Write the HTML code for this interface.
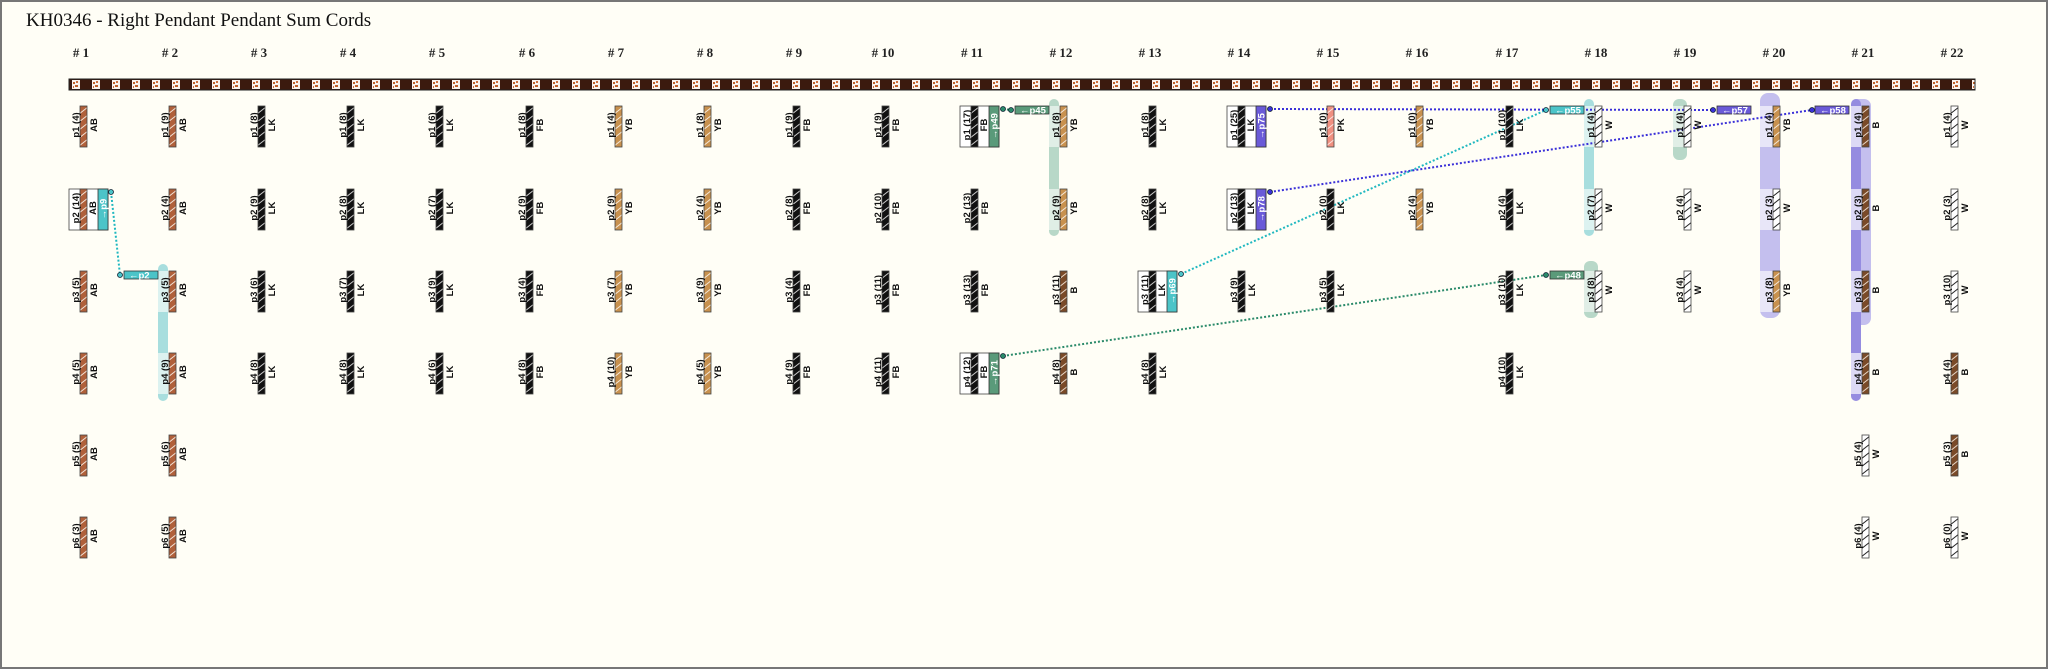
<!DOCTYPE html>
<html><head><meta charset="utf-8"><style>
html,body{margin:0;padding:0;background:#fffef6;}
svg{display:block}
.l,.c{font:bold 9.5px "Liberation Sans",sans-serif;text-anchor:middle;fill:#111}
.t{font:bold 9.5px "Liberation Sans",sans-serif;text-anchor:middle;fill:#fff}
.i{font:bold 9.5px "Liberation Sans",sans-serif;fill:#fff}
.h{font:bold 13px "Liberation Serif",serif;text-anchor:middle;fill:#222}
</style></head><body>
<svg width="2048" height="669" viewBox="0 0 2048 669" xmlns="http://www.w3.org/2000/svg">
<defs>
<pattern id="AB" patternUnits="userSpaceOnUse" width="7" height="8"><rect width="7" height="8" fill="#b0603a"/><path d="M-1,8 L8,1" stroke="#f3e2d6" stroke-width="1"/></pattern>
<pattern id="LK" patternUnits="userSpaceOnUse" width="7" height="8"><rect width="7" height="8" fill="#111"/><path d="M-1,8 L8,1" stroke="#ccc" stroke-width="1"/></pattern>
<pattern id="YB" patternUnits="userSpaceOnUse" width="7" height="8"><rect width="7" height="8" fill="#c8914e"/><path d="M-1,8 L8,1" stroke="#f5e8d8" stroke-width="1"/></pattern>
<pattern id="B" patternUnits="userSpaceOnUse" width="7" height="8"><rect width="7" height="8" fill="#7a4a28"/><path d="M-1,8 L8,1" stroke="#e8d8c8" stroke-width="1"/></pattern>
<pattern id="W" patternUnits="userSpaceOnUse" width="7" height="8"><rect width="7" height="8" fill="#fff"/><path d="M-1,8 L8,1" stroke="#222" stroke-width="1"/></pattern>
<pattern id="PK" patternUnits="userSpaceOnUse" width="7" height="8"><rect width="7" height="8" fill="#f09080"/><path d="M-1,8 L8,1" stroke="#fbe2dc" stroke-width="1"/></pattern>
<pattern id="MC" patternUnits="userSpaceOnUse" x="69" y="79" width="20" height="11"><rect width="20" height="11" fill="#3b1a0e"/><rect x="3" y="1" width="8" height="9" fill="#fbf4ee"/><rect x="4" y="3" width="2" height="2" fill="#c0602a"/><rect x="7" y="2" width="2" height="2" fill="#d07040"/><rect x="6" y="6" width="3" height="2" fill="#c0602a"/><rect x="4" y="7" width="1" height="2" fill="#d07040"/></pattern>
</defs>
<rect x="1" y="1" width="2046" height="667" fill="#fffef6" stroke="#777" stroke-width="2"/>
<text x="26" y="26" style="font:19px 'Liberation Serif',serif;fill:#111">KH0346 - Right Pendant Pendant Sum Cords</text>

<g>
<text class="h" x="81" y="57"># 1</text><text class="h" x="170" y="57"># 2</text><text class="h" x="259" y="57"># 3</text><text class="h" x="348" y="57"># 4</text><text class="h" x="437" y="57"># 5</text><text class="h" x="527" y="57"># 6</text><text class="h" x="616" y="57"># 7</text><text class="h" x="705" y="57"># 8</text><text class="h" x="794" y="57"># 9</text><text class="h" x="883" y="57"># 10</text><text class="h" x="972" y="57"># 11</text><text class="h" x="1061" y="57"># 12</text><text class="h" x="1150" y="57"># 13</text><text class="h" x="1239" y="57"># 14</text><text class="h" x="1328" y="57"># 15</text><text class="h" x="1417" y="57"># 16</text><text class="h" x="1507" y="57"># 17</text><text class="h" x="1596" y="57"># 18</text><text class="h" x="1685" y="57"># 19</text><text class="h" x="1774" y="57"># 20</text><text class="h" x="1863" y="57"># 21</text><text class="h" x="1952" y="57"># 22</text>
</g>

<rect x="69" y="79" width="1906" height="11" fill="url(#MC)" stroke="#222" stroke-width="1"/>

<!-- highlights -->
<rect x="158" y="264" width="10" height="137" rx="5" fill="#a8dede"/>
<rect x="158" y="271" width="10" height="41" fill="#dcf2f0"/><rect x="158" y="353" width="10" height="41" fill="#dcf2f0"/>
<rect x="1049" y="99" width="10" height="137" rx="5" fill="#b8d8c8"/>
<rect x="1049" y="106" width="10" height="41" fill="#e0eee6"/><rect x="1049" y="189" width="10" height="41" fill="#e0eee6"/>
<rect x="1584" y="99" width="10" height="137" rx="5" fill="#a8dede"/>
<rect x="1584" y="106" width="10" height="41" fill="#dcf2f0"/><rect x="1584" y="189" width="10" height="41" fill="#dcf2f0"/>
<rect x="1584" y="261" width="14" height="57" rx="6" fill="#b8d8c8"/>
<rect x="1584" y="271" width="11" height="41" fill="#e0eee6"/>
<rect x="1673" y="99" width="14" height="61" rx="6" fill="#b8d8c8"/>
<rect x="1673" y="106" width="11" height="41" fill="#e0eee6"/>
<rect x="1760" y="93" width="20" height="225" rx="8" fill="#c4bfee"/>
<rect x="1760" y="106" width="13" height="41" fill="#e8e6f8"/><rect x="1760" y="189" width="13" height="41" fill="#e8e6f8"/><rect x="1760" y="271" width="13" height="41" fill="#e8e6f8"/>
<rect x="1851" y="99" width="20" height="226" rx="7" fill="#c4bfee"/>
<rect x="1851" y="99" width="10" height="302" rx="5" fill="#958ce0"/>
<rect x="1851" y="106" width="11" height="41" fill="#dcd9f5"/><rect x="1851" y="189" width="11" height="41" fill="#dcd9f5"/><rect x="1851" y="271" width="11" height="41" fill="#dcd9f5"/><rect x="1851" y="353" width="11" height="41" fill="#dcd9f5"/>

<!-- connectors -->
<g fill="none" stroke-width="2" stroke-dasharray="2 2">
<path d="M111,192 L120,275" stroke="#20b8c0"/>
<path d="M1003,109 L1011,110" stroke="#2a8a6a"/>
<path d="M1003,356 L1546,275" stroke="#2a8a6a"/>
<path d="M1181,274 L1546,110" stroke="#20b8c0"/>
<path d="M1270,109 L1713,110" stroke="#3a30d8"/>
<path d="M1270,192 L1812,110" stroke="#3a30d8"/>
</g>

<g stroke="#444" stroke-width="0.8">
<!-- col1 -->
<g transform="translate(80,106)"><rect width="7" height="41" fill="url(#AB)"/><text class="l" transform="translate(-1,19) rotate(-90)">p1 (4)</text><text class="c" transform="translate(17,19) rotate(-90)">AB</text></g>
<g transform="translate(80,189)"><rect x="-11" width="39" height="41" fill="#fff"/><rect width="7" height="41" fill="url(#AB)"/><text class="l" transform="translate(-1,19) rotate(-90)">p2 (14)</text><text class="c" transform="translate(16,19) rotate(-90)">AB</text><rect x="18" width="10" height="41" fill="#4cc4c8" stroke="#333"/><text class="t" transform="translate(26.5,20) rotate(-90)">→p9</text><circle cx="31" cy="3" r="2.5" fill="#4cc4c8" stroke="#123"/></g>
<g transform="translate(80,271)"><rect width="7" height="41" fill="url(#AB)"/><text class="l" transform="translate(-1,19) rotate(-90)">p3 (5)</text><text class="c" transform="translate(17,19) rotate(-90)">AB</text></g>
<g transform="translate(80,353)"><rect width="7" height="41" fill="url(#AB)"/><text class="l" transform="translate(-1,19) rotate(-90)">p4 (5)</text><text class="c" transform="translate(17,19) rotate(-90)">AB</text></g>
<g transform="translate(80,435)"><rect width="7" height="41" fill="url(#AB)"/><text class="l" transform="translate(-1,19) rotate(-90)">p5 (5)</text><text class="c" transform="translate(17,19) rotate(-90)">AB</text></g>
<g transform="translate(80,517)"><rect width="7" height="41" fill="url(#AB)"/><text class="l" transform="translate(-1,19) rotate(-90)">p6 (3)</text><text class="c" transform="translate(17,19) rotate(-90)">AB</text></g>
<!-- col2 -->
<g transform="translate(169,106)"><rect width="7" height="41" fill="url(#AB)"/><text class="l" transform="translate(-1,19) rotate(-90)">p1 (9)</text><text class="c" transform="translate(17,19) rotate(-90)">AB</text></g>
<g transform="translate(169,189)"><rect width="7" height="41" fill="url(#AB)"/><text class="l" transform="translate(-1,19) rotate(-90)">p2 (4)</text><text class="c" transform="translate(17,19) rotate(-90)">AB</text></g>
<g transform="translate(169,271)"><rect width="7" height="41" fill="url(#AB)"/><text class="l" transform="translate(-1,19) rotate(-90)">p3 (5)</text><text class="c" transform="translate(17,19) rotate(-90)">AB</text><rect x="-45" width="34" height="8" fill="#4cc4c8" stroke="#333"/><text class="i" x="-40" y="7.5" stroke="none">←p2</text><circle cx="-49" cy="4" r="2.5" fill="#4cc4c8" stroke="#123"/></g>
<g transform="translate(169,353)"><rect width="7" height="41" fill="url(#AB)"/><text class="l" transform="translate(-1,19) rotate(-90)">p4 (9)</text><text class="c" transform="translate(17,19) rotate(-90)">AB</text></g>
<g transform="translate(169,435)"><rect width="7" height="41" fill="url(#AB)"/><text class="l" transform="translate(-1,19) rotate(-90)">p5 (6)</text><text class="c" transform="translate(17,19) rotate(-90)">AB</text></g>
<g transform="translate(169,517)"><rect width="7" height="41" fill="url(#AB)"/><text class="l" transform="translate(-1,19) rotate(-90)">p6 (5)</text><text class="c" transform="translate(17,19) rotate(-90)">AB</text></g>
<!-- col3 -->
<g transform="translate(258,106)"><rect width="7" height="41" fill="url(#LK)"/><text class="l" transform="translate(-1,19) rotate(-90)">p1 (8)</text><text class="c" transform="translate(17,19) rotate(-90)">LK</text></g>
<g transform="translate(258,189)"><rect width="7" height="41" fill="url(#LK)"/><text class="l" transform="translate(-1,19) rotate(-90)">p2 (9)</text><text class="c" transform="translate(17,19) rotate(-90)">LK</text></g>
<g transform="translate(258,271)"><rect width="7" height="41" fill="url(#LK)"/><text class="l" transform="translate(-1,19) rotate(-90)">p3 (6)</text><text class="c" transform="translate(17,19) rotate(-90)">LK</text></g>
<g transform="translate(258,353)"><rect width="7" height="41" fill="url(#LK)"/><text class="l" transform="translate(-1,19) rotate(-90)">p4 (8)</text><text class="c" transform="translate(17,19) rotate(-90)">LK</text></g>
<!-- col4 -->
<g transform="translate(347,106)"><rect width="7" height="41" fill="url(#LK)"/><text class="l" transform="translate(-1,19) rotate(-90)">p1 (8)</text><text class="c" transform="translate(17,19) rotate(-90)">LK</text></g>
<g transform="translate(347,189)"><rect width="7" height="41" fill="url(#LK)"/><text class="l" transform="translate(-1,19) rotate(-90)">p2 (8)</text><text class="c" transform="translate(17,19) rotate(-90)">LK</text></g>
<g transform="translate(347,271)"><rect width="7" height="41" fill="url(#LK)"/><text class="l" transform="translate(-1,19) rotate(-90)">p3 (7)</text><text class="c" transform="translate(17,19) rotate(-90)">LK</text></g>
<g transform="translate(347,353)"><rect width="7" height="41" fill="url(#LK)"/><text class="l" transform="translate(-1,19) rotate(-90)">p4 (8)</text><text class="c" transform="translate(17,19) rotate(-90)">LK</text></g>
<!-- col5 -->
<g transform="translate(436,106)"><rect width="7" height="41" fill="url(#LK)"/><text class="l" transform="translate(-1,19) rotate(-90)">p1 (6)</text><text class="c" transform="translate(17,19) rotate(-90)">LK</text></g>
<g transform="translate(436,189)"><rect width="7" height="41" fill="url(#LK)"/><text class="l" transform="translate(-1,19) rotate(-90)">p2 (7)</text><text class="c" transform="translate(17,19) rotate(-90)">LK</text></g>
<g transform="translate(436,271)"><rect width="7" height="41" fill="url(#LK)"/><text class="l" transform="translate(-1,19) rotate(-90)">p3 (9)</text><text class="c" transform="translate(17,19) rotate(-90)">LK</text></g>
<g transform="translate(436,353)"><rect width="7" height="41" fill="url(#LK)"/><text class="l" transform="translate(-1,19) rotate(-90)">p4 (6)</text><text class="c" transform="translate(17,19) rotate(-90)">LK</text></g>
<!-- col6 -->
<g transform="translate(526,106)"><rect width="7" height="41" fill="url(#LK)"/><text class="l" transform="translate(-1,19) rotate(-90)">p1 (8)</text><text class="c" transform="translate(17,19) rotate(-90)">FB</text></g>
<g transform="translate(526,189)"><rect width="7" height="41" fill="url(#LK)"/><text class="l" transform="translate(-1,19) rotate(-90)">p2 (9)</text><text class="c" transform="translate(17,19) rotate(-90)">FB</text></g>
<g transform="translate(526,271)"><rect width="7" height="41" fill="url(#LK)"/><text class="l" transform="translate(-1,19) rotate(-90)">p3 (4)</text><text class="c" transform="translate(17,19) rotate(-90)">FB</text></g>
<g transform="translate(526,353)"><rect width="7" height="41" fill="url(#LK)"/><text class="l" transform="translate(-1,19) rotate(-90)">p4 (8)</text><text class="c" transform="translate(17,19) rotate(-90)">FB</text></g>
<!-- col7 -->
<g transform="translate(615,106)"><rect width="7" height="41" fill="url(#YB)"/><text class="l" transform="translate(-1,19) rotate(-90)">p1 (4)</text><text class="c" transform="translate(17,19) rotate(-90)">YB</text></g>
<g transform="translate(615,189)"><rect width="7" height="41" fill="url(#YB)"/><text class="l" transform="translate(-1,19) rotate(-90)">p2 (9)</text><text class="c" transform="translate(17,19) rotate(-90)">YB</text></g>
<g transform="translate(615,271)"><rect width="7" height="41" fill="url(#YB)"/><text class="l" transform="translate(-1,19) rotate(-90)">p3 (7)</text><text class="c" transform="translate(17,19) rotate(-90)">YB</text></g>
<g transform="translate(615,353)"><rect width="7" height="41" fill="url(#YB)"/><text class="l" transform="translate(-1,19) rotate(-90)">p4 (10)</text><text class="c" transform="translate(17,19) rotate(-90)">YB</text></g>
<!-- col8 -->
<g transform="translate(704,106)"><rect width="7" height="41" fill="url(#YB)"/><text class="l" transform="translate(-1,19) rotate(-90)">p1 (8)</text><text class="c" transform="translate(17,19) rotate(-90)">YB</text></g>
<g transform="translate(704,189)"><rect width="7" height="41" fill="url(#YB)"/><text class="l" transform="translate(-1,19) rotate(-90)">p2 (4)</text><text class="c" transform="translate(17,19) rotate(-90)">YB</text></g>
<g transform="translate(704,271)"><rect width="7" height="41" fill="url(#YB)"/><text class="l" transform="translate(-1,19) rotate(-90)">p3 (9)</text><text class="c" transform="translate(17,19) rotate(-90)">YB</text></g>
<g transform="translate(704,353)"><rect width="7" height="41" fill="url(#YB)"/><text class="l" transform="translate(-1,19) rotate(-90)">p4 (5)</text><text class="c" transform="translate(17,19) rotate(-90)">YB</text></g>
<!-- col9 -->
<g transform="translate(793,106)"><rect width="7" height="41" fill="url(#LK)"/><text class="l" transform="translate(-1,19) rotate(-90)">p1 (9)</text><text class="c" transform="translate(17,19) rotate(-90)">FB</text></g>
<g transform="translate(793,189)"><rect width="7" height="41" fill="url(#LK)"/><text class="l" transform="translate(-1,19) rotate(-90)">p2 (8)</text><text class="c" transform="translate(17,19) rotate(-90)">FB</text></g>
<g transform="translate(793,271)"><rect width="7" height="41" fill="url(#LK)"/><text class="l" transform="translate(-1,19) rotate(-90)">p3 (4)</text><text class="c" transform="translate(17,19) rotate(-90)">FB</text></g>
<g transform="translate(793,353)"><rect width="7" height="41" fill="url(#LK)"/><text class="l" transform="translate(-1,19) rotate(-90)">p4 (9)</text><text class="c" transform="translate(17,19) rotate(-90)">FB</text></g>
<!-- col10 -->
<g transform="translate(882,106)"><rect width="7" height="41" fill="url(#LK)"/><text class="l" transform="translate(-1,19) rotate(-90)">p1 (9)</text><text class="c" transform="translate(17,19) rotate(-90)">FB</text></g>
<g transform="translate(882,189)"><rect width="7" height="41" fill="url(#LK)"/><text class="l" transform="translate(-1,19) rotate(-90)">p2 (10)</text><text class="c" transform="translate(17,19) rotate(-90)">FB</text></g>
<g transform="translate(882,271)"><rect width="7" height="41" fill="url(#LK)"/><text class="l" transform="translate(-1,19) rotate(-90)">p3 (11)</text><text class="c" transform="translate(17,19) rotate(-90)">FB</text></g>
<g transform="translate(882,353)"><rect width="7" height="41" fill="url(#LK)"/><text class="l" transform="translate(-1,19) rotate(-90)">p4 (11)</text><text class="c" transform="translate(17,19) rotate(-90)">FB</text></g>
<!-- col11 -->
<g transform="translate(971,106)"><rect x="-11" width="39" height="41" fill="#fff"/><rect width="7" height="41" fill="url(#LK)"/><text class="l" transform="translate(-1,19) rotate(-90)">p1 (17)</text><text class="c" transform="translate(16,19) rotate(-90)">FB</text><rect x="18" width="10" height="41" fill="#5a9a7a" stroke="#333"/><text class="t" transform="translate(26.5,20) rotate(-90)">→p49</text><circle cx="32" cy="3" r="2.5" fill="#2a8a6a" stroke="#123"/></g>
<g transform="translate(971,189)"><rect width="7" height="41" fill="url(#LK)"/><text class="l" transform="translate(-1,19) rotate(-90)">p2 (13)</text><text class="c" transform="translate(17,19) rotate(-90)">FB</text></g>
<g transform="translate(971,271)"><rect width="7" height="41" fill="url(#LK)"/><text class="l" transform="translate(-1,19) rotate(-90)">p3 (13)</text><text class="c" transform="translate(17,19) rotate(-90)">FB</text></g>
<g transform="translate(971,353)"><rect x="-11" width="39" height="41" fill="#fff"/><rect width="7" height="41" fill="url(#LK)"/><text class="l" transform="translate(-1,19) rotate(-90)">p4 (12)</text><text class="c" transform="translate(16,19) rotate(-90)">FB</text><rect x="18" width="10" height="41" fill="#5a9a7a" stroke="#333"/><text class="t" transform="translate(26.5,20) rotate(-90)">→p71</text><circle cx="32" cy="3" r="2.5" fill="#2a8a6a" stroke="#123"/></g>
<!-- col12 -->
<g transform="translate(1060,106)"><rect width="7" height="41" fill="url(#YB)"/><text class="l" transform="translate(-1,19) rotate(-90)">p1 (8)</text><text class="c" transform="translate(17,19) rotate(-90)">YB</text><rect x="-45" width="34" height="8" fill="#5a9a7a" stroke="#333"/><text class="i" x="-40" y="7.5" stroke="none">←p45</text><circle cx="-49" cy="4" r="2.5" fill="#2a8a6a" stroke="#123"/></g>
<g transform="translate(1060,189)"><rect width="7" height="41" fill="url(#YB)"/><text class="l" transform="translate(-1,19) rotate(-90)">p2 (9)</text><text class="c" transform="translate(17,19) rotate(-90)">YB</text></g>
<g transform="translate(1060,271)"><rect width="7" height="41" fill="url(#B)"/><text class="l" transform="translate(-1,19) rotate(-90)">p3 (11)</text><text class="c" transform="translate(17,19) rotate(-90)">B</text></g>
<g transform="translate(1060,353)"><rect width="7" height="41" fill="url(#B)"/><text class="l" transform="translate(-1,19) rotate(-90)">p4 (8)</text><text class="c" transform="translate(17,19) rotate(-90)">B</text></g>
<!-- col13 -->
<g transform="translate(1149,106)"><rect width="7" height="41" fill="url(#LK)"/><text class="l" transform="translate(-1,19) rotate(-90)">p1 (8)</text><text class="c" transform="translate(17,19) rotate(-90)">LK</text></g>
<g transform="translate(1149,189)"><rect width="7" height="41" fill="url(#LK)"/><text class="l" transform="translate(-1,19) rotate(-90)">p2 (8)</text><text class="c" transform="translate(17,19) rotate(-90)">LK</text></g>
<g transform="translate(1149,271)"><rect x="-11" width="39" height="41" fill="#fff"/><rect width="7" height="41" fill="url(#LK)"/><text class="l" transform="translate(-1,19) rotate(-90)">p3 (11)</text><text class="c" transform="translate(16,19) rotate(-90)">LK</text><rect x="18" width="10" height="41" fill="#4cc4c8" stroke="#333"/><text class="t" transform="translate(26.5,20) rotate(-90)">→p69</text><circle cx="32" cy="3" r="2.5" fill="#4cc4c8" stroke="#123"/></g>
<g transform="translate(1149,353)"><rect width="7" height="41" fill="url(#LK)"/><text class="l" transform="translate(-1,19) rotate(-90)">p4 (8)</text><text class="c" transform="translate(17,19) rotate(-90)">LK</text></g>
<!-- col14 -->
<g transform="translate(1238,106)"><rect x="-11" width="39" height="41" fill="#fff"/><rect width="7" height="41" fill="url(#LK)"/><text class="l" transform="translate(-1,19) rotate(-90)">p1 (25)</text><text class="c" transform="translate(16,19) rotate(-90)">LK</text><rect x="18" width="10" height="41" fill="#6a5ad8" stroke="#333"/><text class="t" transform="translate(26.5,20) rotate(-90)">→p75</text><circle cx="32" cy="3" r="2.5" fill="#3a30d8" stroke="#123"/></g>
<g transform="translate(1238,189)"><rect x="-11" width="39" height="41" fill="#fff"/><rect width="7" height="41" fill="url(#LK)"/><text class="l" transform="translate(-1,19) rotate(-90)">p2 (13)</text><text class="c" transform="translate(16,19) rotate(-90)">LK</text><rect x="18" width="10" height="41" fill="#6a5ad8" stroke="#333"/><text class="t" transform="translate(26.5,20) rotate(-90)">→p78</text><circle cx="32" cy="3" r="2.5" fill="#3a30d8" stroke="#123"/></g>
<g transform="translate(1238,271)"><rect width="7" height="41" fill="url(#LK)"/><text class="l" transform="translate(-1,19) rotate(-90)">p3 (9)</text><text class="c" transform="translate(17,19) rotate(-90)">LK</text></g>
<!-- col15 -->
<g transform="translate(1327,106)"><rect width="7" height="41" fill="url(#PK)"/><text class="l" transform="translate(-1,19) rotate(-90)">p1 (0)</text><text class="c" transform="translate(17,19) rotate(-90)">PK</text></g>
<g transform="translate(1327,189)"><rect width="7" height="41" fill="url(#LK)"/><text class="l" transform="translate(-1,19) rotate(-90)">p2 (0)</text><text class="c" transform="translate(17,19) rotate(-90)">LK</text></g>
<g transform="translate(1327,271)"><rect width="7" height="41" fill="url(#LK)"/><text class="l" transform="translate(-1,19) rotate(-90)">p3 (5)</text><text class="c" transform="translate(17,19) rotate(-90)">LK</text></g>
<!-- col16 -->
<g transform="translate(1416,106)"><rect width="7" height="41" fill="url(#YB)"/><text class="l" transform="translate(-1,19) rotate(-90)">p1 (0)</text><text class="c" transform="translate(17,19) rotate(-90)">YB</text></g>
<g transform="translate(1416,189)"><rect width="7" height="41" fill="url(#YB)"/><text class="l" transform="translate(-1,19) rotate(-90)">p2 (4)</text><text class="c" transform="translate(17,19) rotate(-90)">YB</text></g>
<!-- col17 -->
<g transform="translate(1506,106)"><rect width="7" height="41" fill="url(#LK)"/><text class="l" transform="translate(-1,19) rotate(-90)">p1 (10)</text><text class="c" transform="translate(17,19) rotate(-90)">LK</text></g>
<g transform="translate(1506,189)"><rect width="7" height="41" fill="url(#LK)"/><text class="l" transform="translate(-1,19) rotate(-90)">p2 (4)</text><text class="c" transform="translate(17,19) rotate(-90)">LK</text></g>
<g transform="translate(1506,271)"><rect width="7" height="41" fill="url(#LK)"/><text class="l" transform="translate(-1,19) rotate(-90)">p3 (10)</text><text class="c" transform="translate(17,19) rotate(-90)">LK</text></g>
<g transform="translate(1506,353)"><rect width="7" height="41" fill="url(#LK)"/><text class="l" transform="translate(-1,19) rotate(-90)">p4 (10)</text><text class="c" transform="translate(17,19) rotate(-90)">LK</text></g>
<!-- col18 -->
<g transform="translate(1595,106)"><rect width="7" height="41" fill="url(#W)"/><text class="l" transform="translate(-1,19) rotate(-90)">p1 (4)</text><text class="c" transform="translate(17,19) rotate(-90)">W</text><rect x="-45" width="34" height="8" fill="#4cc4c8" stroke="#333"/><text class="i" x="-40" y="7.5" stroke="none">←p55</text><circle cx="-49" cy="4" r="2.5" fill="#4cc4c8" stroke="#123"/></g>
<g transform="translate(1595,189)"><rect width="7" height="41" fill="url(#W)"/><text class="l" transform="translate(-1,19) rotate(-90)">p2 (7)</text><text class="c" transform="translate(17,19) rotate(-90)">W</text></g>
<g transform="translate(1595,271)"><rect width="7" height="41" fill="url(#W)"/><text class="l" transform="translate(-1,19) rotate(-90)">p3 (8)</text><text class="c" transform="translate(17,19) rotate(-90)">W</text><rect x="-45" width="34" height="8" fill="#5a9a7a" stroke="#333"/><text class="i" x="-40" y="7.5" stroke="none">←p48</text><circle cx="-49" cy="4" r="2.5" fill="#2a8a6a" stroke="#123"/></g>
<!-- col19 -->
<g transform="translate(1684,106)"><rect width="7" height="41" fill="url(#W)"/><text class="l" transform="translate(-1,19) rotate(-90)">p1 (4)</text><text class="c" transform="translate(17,19) rotate(-90)">W</text></g>
<g transform="translate(1684,189)"><rect width="7" height="41" fill="url(#W)"/><text class="l" transform="translate(-1,19) rotate(-90)">p2 (4)</text><text class="c" transform="translate(17,19) rotate(-90)">W</text></g>
<g transform="translate(1684,271)"><rect width="7" height="41" fill="url(#W)"/><text class="l" transform="translate(-1,19) rotate(-90)">p3 (4)</text><text class="c" transform="translate(17,19) rotate(-90)">W</text></g>
<!-- col20 -->
<g transform="translate(1773,106)"><rect width="7" height="41" fill="url(#YB)"/><text class="l" transform="translate(-1,19) rotate(-90)">p1 (4)</text><text class="c" transform="translate(17,19) rotate(-90)">YB</text><rect x="-56" width="34" height="8" fill="#6a5ad8" stroke="#333"/><text class="i" x="-51" y="7.5" stroke="none">←p57</text><circle cx="-60" cy="4" r="2.5" fill="#3a30d8" stroke="#123"/></g>
<g transform="translate(1773,189)"><rect width="7" height="41" fill="url(#W)"/><text class="l" transform="translate(-1,19) rotate(-90)">p2 (3)</text><text class="c" transform="translate(17,19) rotate(-90)">W</text></g>
<g transform="translate(1773,271)"><rect width="7" height="41" fill="url(#YB)"/><text class="l" transform="translate(-1,19) rotate(-90)">p3 (8)</text><text class="c" transform="translate(17,19) rotate(-90)">YB</text></g>
<!-- col21 -->
<g transform="translate(1862,106)"><rect width="7" height="41" fill="url(#B)"/><text class="l" transform="translate(-1,19) rotate(-90)">p1 (4)</text><text class="c" transform="translate(17,19) rotate(-90)">B</text><rect x="-47" width="34" height="8" fill="#6a5ad8" stroke="#333"/><text class="i" x="-42" y="7.5" stroke="none">←p58</text><circle cx="-50" cy="4" r="2.5" fill="#3a30d8" stroke="#123"/></g>
<g transform="translate(1862,189)"><rect width="7" height="41" fill="url(#B)"/><text class="l" transform="translate(-1,19) rotate(-90)">p2 (3)</text><text class="c" transform="translate(17,19) rotate(-90)">B</text></g>
<g transform="translate(1862,271)"><rect width="7" height="41" fill="url(#B)"/><text class="l" transform="translate(-1,19) rotate(-90)">p3 (3)</text><text class="c" transform="translate(17,19) rotate(-90)">B</text></g>
<g transform="translate(1862,353)"><rect width="7" height="41" fill="url(#B)"/><text class="l" transform="translate(-1,19) rotate(-90)">p4 (3)</text><text class="c" transform="translate(17,19) rotate(-90)">B</text></g>
<g transform="translate(1862,435)"><rect width="7" height="41" fill="url(#W)"/><text class="l" transform="translate(-1,19) rotate(-90)">p5 (4)</text><text class="c" transform="translate(17,19) rotate(-90)">W</text></g>
<g transform="translate(1862,517)"><rect width="7" height="41" fill="url(#W)"/><text class="l" transform="translate(-1,19) rotate(-90)">p6 (4)</text><text class="c" transform="translate(17,19) rotate(-90)">W</text></g>
<!-- col22 -->
<g transform="translate(1951,106)"><rect width="7" height="41" fill="url(#W)"/><text class="l" transform="translate(-1,19) rotate(-90)">p1 (4)</text><text class="c" transform="translate(17,19) rotate(-90)">W</text></g>
<g transform="translate(1951,189)"><rect width="7" height="41" fill="url(#W)"/><text class="l" transform="translate(-1,19) rotate(-90)">p2 (3)</text><text class="c" transform="translate(17,19) rotate(-90)">W</text></g>
<g transform="translate(1951,271)"><rect width="7" height="41" fill="url(#W)"/><text class="l" transform="translate(-1,19) rotate(-90)">p3 (10)</text><text class="c" transform="translate(17,19) rotate(-90)">W</text></g>
<g transform="translate(1951,353)"><rect width="7" height="41" fill="url(#B)"/><text class="l" transform="translate(-1,19) rotate(-90)">p4 (4)</text><text class="c" transform="translate(17,19) rotate(-90)">B</text></g>
<g transform="translate(1951,435)"><rect width="7" height="41" fill="url(#B)"/><text class="l" transform="translate(-1,19) rotate(-90)">p5 (3)</text><text class="c" transform="translate(17,19) rotate(-90)">B</text></g>
<g transform="translate(1951,517)"><rect width="7" height="41" fill="url(#W)"/><text class="l" transform="translate(-1,19) rotate(-90)">p6 (0)</text><text class="c" transform="translate(17,19) rotate(-90)">W</text></g>
</g>
<style>.l,.c,.t,.i{stroke:none}</style>
</svg>
</body></html>
